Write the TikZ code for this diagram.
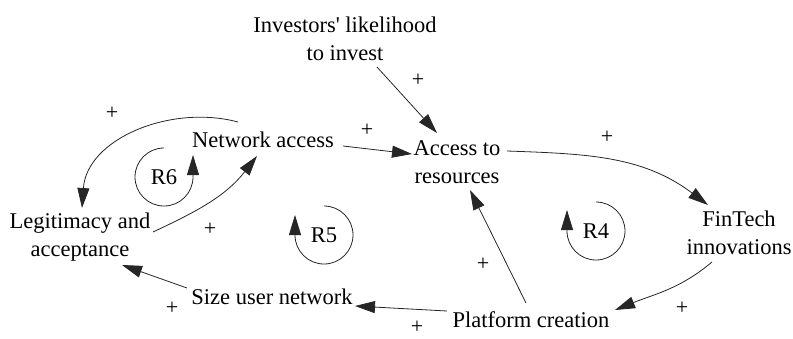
\documentclass[tikz,border=0pt]{standalone}
\usepackage{fontspec}
\setmainfont{Liberation Serif}
\usetikzlibrary{arrows.meta}

\begin{document}
\begin{tikzpicture}[x=1pt, y=-1pt,
  var/.style={font=\fontsize{22.5}{28.5}\selectfont, align=center, inner sep=0pt},
  pol/.style={font=\fontsize{22}{22}\selectfont, inner sep=0pt},
  loopname/.style={font=\fontsize{22.5}{28}\selectfont, inner sep=0pt},
  link/.style={line width=0.8pt, black!85, -{Triangle[length=20pt, width=12pt]}},
  loopline/.style={line width=0.8pt, black!85, -{Triangle[length=20pt, width=12pt]}}
]
\useasboundingbox (0,0) rectangle (793,338);

% variables
\node[var] (inv)  at (345,39)  {Investors\textquotesingle{} likelihood\\to invest};
\node[var] (na)   at (263,140) {Network access};
\node[var] (acc)  at (457,162) {Access to\\resources};
\node[var] (fin)  at (739,233) {FinTech\\innovations};
\node[var] (plat) at (531,320) {Platform creation};
\node[var] (size) at (272,297) {Size user network};
\node[var] (leg)  at (80,237)  {Legitimacy and\\acceptance};

% loop identifiers
\node[loopname] (r6) at (164,177) {R6};
\node[loopname] (r5) at (324,235) {R5};
\node[loopname] (r4) at (596,231) {R4};

% causal links
\draw[link] ([shift={(32,28)}]inv.center) -- ([shift={(-20,-29)}]acc.center);
\draw[link] ([shift={(80,6)}]na.center) -- ([shift={(-45,-8)}]acc.center);
\draw[link] ([shift={(50,-11)}]acc.center) to[out=-2, in=143] ([shift={(-31,-28)}]fin.center);
\draw[link] ([shift={(-27,29)}]fin.center) to[out=-140, in=22] ([shift={(84,-10)}]plat.center);
\draw[link] ([shift={(-5,-17)}]plat.center) -- ([shift={(13,28)}]acc.center);
\draw[link] ([shift={(-84,-9)}]plat.center) -- ([shift={(83,9)}]size.center);
\draw[link] ([shift={(-85,-9)}]size.center) -- ([shift={(42,28)}]leg.center);
\draw[link] ([shift={(73,-5)}]leg.center) to[out=25, in=-128] ([shift={(-6,16)}]na.center);
\draw[link] ([shift={(-25,-18)}]na.center) to[out=165, in=86] ([shift={(2,-29)}]leg.center);

% polarities
\node[pol] (p1) at (418,80)  {+};
\node[pol] (p2) at (367,130) {+};
\node[pol] (p3) at (607,137) {+};
\node[pol] (p4) at (682,308) {+};
\node[pol] (p5) at (483,264) {+};
\node[pol] (p6) at (417,327) {+};
\node[pol] (p7) at (172,308) {+};
\node[pol] (p8) at (210,229) {+};
\node[pol] (p9) at (112,113) {+};

% loop arrows
\draw[loopline] ([yshift=29pt]r6.center) arc[start angle=90, end angle=360, radius=29pt] -- ++(0,-22);
\draw[loopline] ([yshift=29pt]r5.center) arc[start angle=90, end angle=-180, radius=29pt] -- ++(0,-20);
\draw[loopline] ([yshift=29pt]r4.center) arc[start angle=90, end angle=-180, radius=29pt] -- ++(0,-21);
\end{tikzpicture}
\end{document}
